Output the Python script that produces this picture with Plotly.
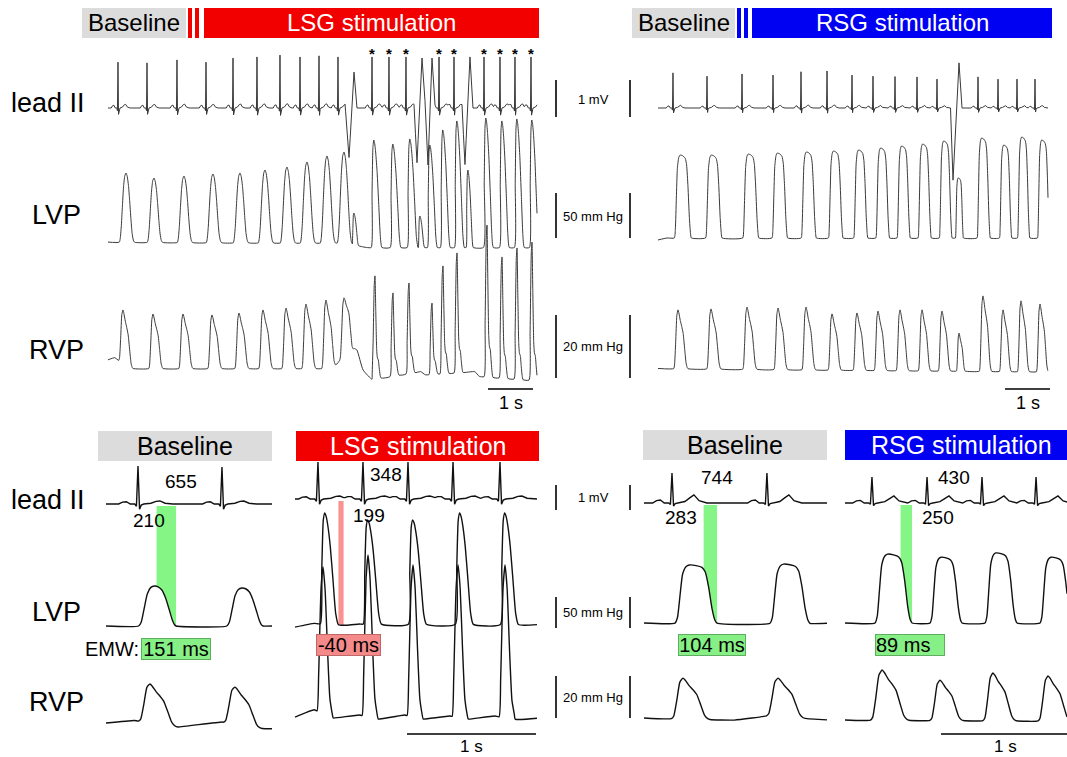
import numpy as np
import plotly.graph_objects as go

W, H = 1067, 757

# ---------------------------------------------------------------- templates
# ECG complex: offsets from the R peak (s) and fraction of the R amplitude
ECG_DT = [-0.15, -0.12, -0.09, -0.06, -0.025, -0.012, 0.0, 0.012, 0.025, 0.045, 0.10, 0.14, 0.17, 0.21, 0.27]
ECG_SMALLT = [0, 0.05, 0.06, 0, 0, -0.06, 1, -0.14, -0.03, 0, 0.02, 0.07, 0.08, 0.02, 0]
ECG_BIGT = [0, 0.08, 0.10, 0, 0, -0.05, 1, -0.10, -0.02, 0, 0.05, 0.18, 0.27, 0.08, 0]

# pressure pulse shapes: phase (0..1 of duration), fraction of peak, phase of the read peak
SHAPES = {
    'round': dict(ph=[0, 0.06, 0.13, 0.2, 0.28, 0.36, 0.44, 0.52, 0.6, 0.68, 0.76, 0.84, 0.92, 1.0],
                  fr=[0, 0.05, 0.22, 0.5, 0.8, 0.96, 1.0, 0.95, 0.82, 0.6, 0.34, 0.13, 0.03, 0], pk=0.44),
    'hump': dict(ph=[0, 0.07, 0.15, 0.23, 0.32, 0.42, 0.52, 0.62, 0.72, 0.82, 0.9, 0.96, 1.0],
                 fr=[0, 0.1, 0.45, 0.8, 0.96, 1.0, 0.98, 0.9, 0.7, 0.4, 0.15, 0.03, 0], pk=0.42),
    'flat': dict(ph=[0, 0.06, 0.12, 0.18, 0.26, 0.34, 0.5, 0.64, 0.72, 0.8, 0.88, 0.95, 1.0],
                 fr=[0, 0.1, 0.48, 0.84, 0.97, 1.0, 0.99, 0.96, 0.88, 0.62, 0.25, 0.05, 0], pk=0.45),
    'spike': dict(ph=[0, 0.08, 0.16, 0.24, 0.32, 0.42, 0.55, 0.7, 0.85, 1.0],
                  fr=[0, 0.5, 0.93, 1.0, 0.97, 0.88, 0.7, 0.4, 0.1, 0], pk=0.26),
    'rvp': dict(ph=[0, 0.06, 0.14, 0.22, 0.3, 0.36, 0.46, 0.56, 0.66, 0.76, 0.86, 0.94, 1.0],
                fr=[0, 0.06, 0.45, 0.9, 1.0, 0.95, 0.82, 0.72, 0.6, 0.35, 0.1, 0.02, 0], pk=0.3),
    'rvpn': dict(ph=[0, 0.12, 0.25, 0.33, 0.42, 0.52, 0.6, 0.7, 0.8, 0.9, 1.0],
                 fr=[0, 0.35, 0.92, 1.0, 0.65, 0.28, 0.2, 0.18, 0.1, 0.03, 0], pk=0.33),
    'rvps': dict(ph=[0, 0.1, 0.25, 0.37, 0.5, 0.65, 0.8, 1.0],
                 fr=[0, 0.25, 0.85, 1.0, 0.85, 0.45, 0.12, 0], pk=0.37),
}

# ---------------------------------------------------------------- data
# Panel A: top left (baseline -> LSG stimulation), time in s, ECG in mV, pressures in mm Hg
A_ECG_T = [0.222, 0.867, 1.533, 2.178, 2.778, 3.311, 3.822, 4.267, 4.689, 5.111,
           5.867, 6.244, 6.622, 7.356, 7.689, 8.356, 8.711, 9.044, 9.4]
A_ECG_V = [1.24, 1.22, 1.30, 1.24, 1.35, 1.38, 1.43, 1.38, 1.41, 1.38,
           1.38, 1.38, 1.38, 1.38, 1.38, 1.38, 1.38, 1.38, 1.38]
A_STAR = [0, 0, 0, 0, 0, 0, 0, 0, 0, 0, 1, 1, 1, 1, 1, 1, 1, 1, 1]
A_PVC_T = [[5.267, 5.356, 5.467, 5.533], [6.8, 6.867, 6.978, 7.044, 7.111, 7.2, 7.267], [7.867, 7.933, 8.044, 8.111]]
A_PVC_V = [[0, -1.35, 0.97, 0], [0, -1.49, 1.35, 0.2, -1.54, 1.35, 0], [0, -1.54, 1.38, 0]]
A_LVP_T = [0.4, 1.022, 1.689, 2.333, 2.933, 3.489, 3.978, 4.422, 4.867, 5.244, 5.467, 5.911,
           6.333, 6.711, 6.933, 7.156, 7.444, 7.756, 8.0, 8.4, 8.756, 9.089, 9.422]
A_LVP_V = [77.8, 72.2, 74.4, 76.7, 77.8, 81.1, 84.4, 90, 96.7, 101.1, 33.3, 114.4,
           110, 115.6, 30, 108.9, 125.6, 135.6, 81.1, 138.9, 135.6, 137.8, 136.7]
A_LVP_D = [0.34] * 10 + [0.14, 0.24, 0.24, 0.24, 0.14, 0.22, 0.22, 0.22, 0.16, 0.22, 0.22, 0.22, 0.22]
A_LVP_K = ['round'] * 10 + ['spike'] * 13
A_LVP_BT = [0, 4.0, 5.3, 5.75, 9.6]
A_LVP_BV = [1, 0, 0, -5, -5]
A_RVP_T = [0.333, 1.0, 1.667, 2.311, 2.911, 3.444, 3.956, 4.4, 4.844, 5.244,
           5.933, 6.333, 6.689, 7.2, 7.444, 7.756, 8.422, 8.756, 9.089, 9.422]
A_RVP_V = [18.4, 17.1, 17.1, 16.8, 17.4, 18.4, 19.0, 20.3, 21.6, 22.3,
           29.4, 23.9, 27.1, 20.6, 32.6, 36.8, 45.8, 35.5, 38.4, 40.3]
A_RVP_D = [0.32] * 10 + [0.2] * 10
A_RVP_K = ['rvp'] * 10 + ['rvpn'] * 10
A_RVP_BT = [0, 0.15, 0.5, 5.0, 5.35, 5.42, 5.47, 5.53, 5.67, 5.87, 6.95, 7.05, 8.15, 8.25, 9.6]
A_RVP_BV = [2.3, 3.0, -0.5, -0.5, 5.8, 4.8, 6.0, 5.5, -1, -4, -1.5, -2.5, -1.5, -3, -4.5]

# Panel B: top right (baseline -> RSG stimulation)
B_ECG_T = [0.333, 1.089, 1.867, 2.556, 3.178, 3.756, 4.311, 4.778, 5.267, 5.756, 6.2, 7.111, 7.556, 7.978, 8.378]
B_ECG_V = [0.95, 0.86, 0.92, 0.89, 0.98, 1.0, 0.89, 0.86, 0.85, 0.84, 0.78, 0.84, 0.78, 0.78, 0.78]
B_PVC_T = [[6.5, 6.556, 6.689, 6.756]]
B_PVC_V = [[0, -1.95, 1.22, 0]]
B_LVP_T = [0.533, 1.222, 2.044, 2.689, 3.333, 3.933, 4.489, 4.978, 5.444, 5.911, 6.378, 6.689, 7.222, 7.711, 8.111, 8.556]
B_LVP_V = [92.2, 92.2, 93.3, 94.4, 95.6, 96.7, 97.8, 100, 102.2, 104.4, 107.8, 66.7, 111.1, 103.3, 112.2, 108.9]
B_LVP_D = [0.38, 0.37, 0.36, 0.35, 0.34, 0.33, 0.32, 0.31, 0.3, 0.3, 0.29, 0.18, 0.3, 0.28, 0.28, 0.28]
B_LVP_BT = [0, 0.2, 8.7]
B_LVP_BV = [-2.2, 0, 0]
B_RVP_T = [0.444, 1.178, 1.978, 2.667, 3.289, 3.867, 4.422, 4.889, 5.378, 5.867, 6.311, 6.689, 7.222, 7.667, 8.067, 8.489]
B_RVP_V = [19.4, 19.7, 20.3, 20.0, 20.3, 18.1, 18.4, 19.0, 19.4, 19.4, 19.0, 11.9, 23.9, 19.4, 22.3, 21.3]
B_RVP_D = [0.32, 0.32, 0.32, 0.31, 0.31, 0.3, 0.3, 0.29, 0.29, 0.28, 0.28, 0.2, 0.28, 0.27, 0.27, 0.27]
B_RVP_BT = [0, 8.7]
B_RVP_BV = [0.5, -0.6]

# Panel C: bottom left, baseline
C_ECG_T = [0.248, 0.899]
C_ECG_V = [1.52, 1.48]
C_LVP_T = [0.375, 1.054]
C_LVP_V = [64.5, 61.3]
C_LVP_D = [0.29, 0.28]
C_LVP_BT = [0, 1.3]
C_LVP_BV = [0, 0]
C_RVP_T = [0.341, 1.0]
C_RVP_V = [18.6, 17.1]
C_RVP_D = [0.3, 0.3]
C_RVP_BT = [0, 0.22, 0.56, 0.9, 1.15, 1.3]
C_RVP_BV = [0, 1.2, -1.9, 0.5, -2.5, -2.8]

# Panel D: bottom left, LSG stimulation
D_ECG_T = [0.178, 0.527, 0.876, 1.225, 1.589]
D_ECG_V = [1.48, 1.48, 1.48, 1.48, 1.48]
D_LVP_T = [0.233, 0.566, 0.915, 1.279, 1.628]
D_LVP_V = [179, 168, 168, 179, 179]
D_LVP_D = [0.14, 0.14, 0.14, 0.14, 0.14]
D_LVP_BT = [0, 0.15, 0.4, 0.5, 1.9]
D_LVP_BV = [-5, 1, -2, 0, -1]
D_RVP_T = [0.217, 0.566, 0.915, 1.264, 1.628]
D_RVP_V = [71, 76.7, 71.9, 71.9, 71.9]
D_RVP_D = [0.125, 0.125, 0.125, 0.125, 0.125]
D_RVP_BT = [0, 0.15, 0.3, 0.5, 0.65, 0.85, 1.0, 1.2, 1.35, 1.55, 1.7, 1.9]
D_RVP_BV = [-0.5, 3, -1, 0.5, -1.5, 0.5, -1.5, 0, -1.5, 0, -1.5, -1]

# Panel E: bottom right, baseline
E_ECG_T = [0.217, 0.953]
E_ECG_V = [1.2, 1.2]
E_LVP_T = [0.387, 1.116]
E_LVP_V = [93.5, 95]
E_LVP_D = [0.326, 0.31]
E_LVP_BT = [0, 1.45]
E_LVP_BV = [0, -0.5]
E_RVP_T = [0.302, 1.039]
E_RVP_V = [19, 19]
E_RVP_D = [0.3, 0.3]
E_RVP_BT = [0, 0.7, 0.95, 1.45]
E_RVP_BV = [0, -1, 1, -1]

# Panel F: bottom right, RSG stimulation
F_ECG_T = [0.209, 0.636, 1.062, 1.481]
F_ECG_V = [1.04, 1.04, 1.04, 1.04]
F_LVP_T = [0.362, 0.771, 1.197, 1.624]
F_LVP_V = [111, 106, 113, 106]
F_LVP_D = [0.287, 0.248, 0.248, 0.25]
F_LVP_BT = [0, 1.75]
F_LVP_BV = [0, 0]
F_RVP_T = [0.287, 0.736, 1.147, 1.574]
F_RVP_V = [23.8, 19, 22.4, 21]
F_RVP_D = [0.3, 0.26, 0.26, 0.26]
F_RVP_BT = [0, 1.75]
F_RVP_BV = [0, -0.5]

EMW_MS = [151, -40, 104, 89]
EMW_TEXT = ['151 ms', '-40 ms', '104 ms', '89 ms']
RR_MS = ['655', '348', '744', '430']
QT_MS = ['210', '199', '283', '250']

# ---------------------------------------------------------------- geometry (pixels)
PANELS = {
    'A': dict(x0=108, x1=537, pxps=45, ytop=40, ybot=400, ecg=(108, 37), lvp=(243, 0.9), rvp=(367, 3.1), lw=1.0),
    'B': dict(x0=658, x1=1048, pxps=45, ytop=40, ybot=400, ecg=(108, 37), lvp=(238, 0.9), rvp=(370, 3.1), lw=1.0),
    'C': dict(x0=106, x1=272, pxps=129, ytop=455, ybot=740, ecg=(504, 25), lvp=(626, 0.62), rvp=(723, 2.1), lw=1.4),
    'D': dict(x0=295, x1=537, pxps=129, ytop=455, ybot=740, ecg=(499, 25), lvp=(624, 0.62), rvp=(716, 2.1), lw=1.4),
    'E': dict(x0=644, x1=827, pxps=129, ytop=455, ybot=740, ecg=(503, 25), lvp=(623, 0.62), rvp=(718, 2.1), lw=1.4),
    'F': dict(x0=845, x1=1067, pxps=129, ytop=455, ybot=740, ecg=(503, 25), lvp=(623, 0.62), rvp=(720, 2.1), lw=1.4),
}

FONT = "Liberation Sans, Arial, sans-serif"


def X(px):
    return px / W


def Y(py):
    return 1 - py / H


def build_ecg(t_end, rt, rv, tmpl, pvc_t=(), pvc_v=()):
    grid = [0.0, t_end]
    parts = []
    dt = np.asarray(ECG_DT)
    for t, v in zip(rt, rv):
        ts = t + dt
        grid.extend(ts)
        parts.append((ts, np.asarray(tmpl) * v))
    for ts, vs in zip(pvc_t, pvc_v):
        grid.extend(ts)
        parts.append((np.asarray(ts), np.asarray(vs, dtype=float)))
    g = np.unique(np.clip(np.asarray(grid), 0, t_end))
    y = np.zeros_like(g)
    for ts, vs in parts:
        y = y + np.interp(g, ts, vs, left=0.0, right=0.0)
    return g, y


def build_pressure(t_end, times, vals, durs, kinds, base_t, base_v):
    grid = [0.0, t_end] + list(base_t)
    parts = []
    for tp, v, d, k in zip(times, vals, durs, kinds):
        sh = SHAPES[k]
        ts = tp - sh['pk'] * d + np.asarray(sh['ph']) * d
        grid.extend(ts)
        parts.append((ts, np.asarray(sh['fr']), v - np.interp(tp, base_t, base_v)))
    g = np.unique(np.clip(np.asarray(grid), 0, t_end))
    y = np.interp(g, base_t, base_v)
    for ts, fr, a in parts:
        y = y + a * np.interp(g, ts, fr, left=0.0, right=0.0)
    return g, y


def pulse_end(tp, d, kind):
    return tp + (1 - SHAPES[kind]['pk']) * d


DATA = {
    'A': dict(ecg=(A_ECG_T, A_ECG_V, ECG_SMALLT, A_PVC_T, A_PVC_V),
              lvp=(A_LVP_T, A_LVP_V, A_LVP_D, A_LVP_K, A_LVP_BT, A_LVP_BV),
              rvp=(A_RVP_T, A_RVP_V, A_RVP_D, A_RVP_K, A_RVP_BT, A_RVP_BV)),
    'B': dict(ecg=(B_ECG_T, B_ECG_V, ECG_SMALLT, B_PVC_T, B_PVC_V),
              lvp=(B_LVP_T, B_LVP_V, B_LVP_D, ['flat'] * len(B_LVP_T), B_LVP_BT, B_LVP_BV),
              rvp=(B_RVP_T, B_RVP_V, B_RVP_D, ['rvp'] * len(B_RVP_T), B_RVP_BT, B_RVP_BV)),
    'C': dict(ecg=(C_ECG_T, C_ECG_V, ECG_SMALLT, [], []),
              lvp=(C_LVP_T, C_LVP_V, C_LVP_D, ['hump'] * 2, C_LVP_BT, C_LVP_BV),
              rvp=(C_RVP_T, C_RVP_V, C_RVP_D, ['rvp'] * 2, C_RVP_BT, C_RVP_BV)),
    'D': dict(ecg=(D_ECG_T, D_ECG_V, ECG_SMALLT, [], []),
              lvp=(D_LVP_T, D_LVP_V, D_LVP_D, ['spike'] * 5, D_LVP_BT, D_LVP_BV),
              rvp=(D_RVP_T, D_RVP_V, D_RVP_D, ['rvps'] * 5, D_RVP_BT, D_RVP_BV)),
    'E': dict(ecg=(E_ECG_T, E_ECG_V, ECG_BIGT, [], []),
              lvp=(E_LVP_T, E_LVP_V, E_LVP_D, ['flat'] * 2, E_LVP_BT, E_LVP_BV),
              rvp=(E_RVP_T, E_RVP_V, E_RVP_D, ['rvp'] * 2, E_RVP_BT, E_RVP_BV)),
    'F': dict(ecg=(F_ECG_T, F_ECG_V, ECG_BIGT, [], []),
              lvp=(F_LVP_T, F_LVP_V, F_LVP_D, ['flat'] * 4, F_LVP_BT, F_LVP_BV),
              rvp=(F_RVP_T, F_RVP_V, F_RVP_D, ['rvp'] * 4, F_RVP_BT, F_RVP_BV)),
}

fig = go.Figure()
layout = dict(width=W, height=H, margin=dict(l=0, r=0, t=0, b=0),
              paper_bgcolor='white', plot_bgcolor='rgba(0,0,0,0)', showlegend=False,
              font=dict(family=FONT, color='black'))

BAND_COLORS = {'C': 'rgba(120,245,120,0.9)', 'D': 'rgba(250,140,140,0.95)',
               'E': 'rgba(120,245,120,0.9)', 'F': 'rgba(120,245,120,0.9)'}
BAND_EMW = {'C': EMW_MS[0], 'D': EMW_MS[1], 'E': EMW_MS[2], 'F': EMW_MS[3]}

xi = 0
yi = 0
for key, P in PANELS.items():
    xi += 1
    xname = 'x' if xi == 1 else 'x%d' % xi
    dx0 = P['x0'] - 2
    dx1 = min(P['x1'] + 2, W)
    ynames = {}
    for sig in ['ecg', 'lvp', 'rvp']:
        yi += 1
        yname = 'y' if yi == 1 else 'y%d' % yi
        base_px, sc = P[sig]
        layout['yaxis' if yi == 1 else 'yaxis%d' % yi] = dict(
            domain=[Y(P['ybot']), Y(P['ytop'])],
            range=[(base_px - P['ybot']) / sc, (base_px - P['ytop']) / sc],
            anchor=xname, visible=False, fixedrange=True)
        ynames[sig] = yname
    layout['xaxis' if xi == 1 else 'xaxis%d' % xi] = dict(
        domain=[X(dx0), X(dx1)],
        range=[(dx0 - P['x0']) / P['pxps'], (dx1 - P['x0']) / P['pxps']],
        anchor=ynames['ecg'], visible=False, fixedrange=True)

    t_end = (P['x1'] - P['x0']) / P['pxps']
    D = DATA[key]
    lg, ly = build_pressure(t_end, *D['lvp'])

    # EMW band (between end of T wave and end of LV pressure pulse)
    if key in BAND_EMW:
        lt, lv, ld, lk = D['lvp'][:4]
        tb = pulse_end(lt[0], ld[0], lk[0])
        ta = tb - BAND_EMW[key] / 1000.0
        lo, hi = min(ta, tb), max(ta, tb)
        m = (lg > lo) & (lg < hi)
        top = (P['lvp'][0] - (P['ecg'][0] + 2)) / P['lvp'][1]
        bx = [lo, lo] + list(lg[m]) + [hi, hi]
        by = [top, np.interp(lo, lg, ly)] + list(ly[m]) + [np.interp(hi, lg, ly), top]
        fig.add_trace(go.Scatter(x=bx, y=by, fill='toself', fillcolor=BAND_COLORS[key],
                                 mode='lines', line=dict(width=0), hoverinfo='skip',
                                 xaxis=xname, yaxis=ynames['lvp']))

    col = '#3a3a3a' if key in 'AB' else '#111111'
    eg, ey = build_ecg(t_end, *D['ecg'])
    fig.add_trace(go.Scatter(x=eg, y=ey, mode='lines', line=dict(color=col, width=P['lw']),
                             xaxis=xname, yaxis=ynames['ecg'], hoverinfo='skip'))
    fig.add_trace(go.Scatter(x=lg, y=ly, mode='lines',
                             line=dict(color=col, width=P['lw'], shape='spline', smoothing=0.5),
                             xaxis=xname, yaxis=ynames['lvp'], hoverinfo='skip'))
    rg, ry = build_pressure(t_end, *D['rvp'])
    fig.add_trace(go.Scatter(x=rg, y=ry, mode='lines',
                             line=dict(color=col, width=P['lw'], shape='spline', smoothing=0.5),
                             xaxis=xname, yaxis=ynames['rvp'], hoverinfo='skip'))

fig.update_layout(**layout)

shapes = []
ann = []


def rect(x0, y0, x1, y1, color):
    shapes.append(dict(type='rect', xref='paper', yref='paper', x0=X(x0), x1=X(x1), y0=Y(y1), y1=Y(y0),
                       fillcolor=color, line=dict(width=0), layer='below'))


def vline(x, y0, y1, w=1.6):
    shapes.append(dict(type='line', xref='paper', yref='paper', x0=X(x), x1=X(x), y0=Y(y0), y1=Y(y1),
                       line=dict(color='black', width=w)))


def hline(x0, x1, y, w=1.6):
    shapes.append(dict(type='line', xref='paper', yref='paper', x0=X(x0), x1=X(x1), y0=Y(y), y1=Y(y),
                       line=dict(color='black', width=w)))


def text(x, y, s, size, color='black', xanchor='center', **kw):
    d = dict(x=X(x), y=Y(y), xref='paper', yref='paper', text=s, showarrow=False,
             font=dict(size=size, color=color, family=FONT), xanchor=xanchor, yanchor='middle')
    d.update(kw)
    ann.append(d)


GRAY = '#dcdcdc'
RED = '#f20000'
BLUE = '#0000f2'

# top headers
rect(82, 8, 186, 38, GRAY)
rect(188, 8, 192, 38, RED)
rect(195, 8, 199, 38, RED)
rect(204, 8, 539, 38, RED)
text(134, 23, 'Baseline', 24)
text(371, 23, 'LSG stimulation', 24, 'white')
rect(632, 8, 735, 38, GRAY)
rect(737, 8, 741, 38, BLUE)
rect(744, 8, 748, 38, BLUE)
rect(752, 8, 1052, 38, BLUE)
text(684, 23, 'Baseline', 24)
text(902, 23, 'RSG stimulation', 24, 'white')

# bottom headers
rect(98, 431, 272, 461, GRAY)
rect(296, 431, 539, 461, RED)
rect(643, 430, 827, 460, GRAY)
rect(845, 430, 1067, 460, BLUE)
text(185, 446, 'Baseline', 25)
text(418, 446, 'LSG stimulation', 25, 'white')
text(735, 445, 'Baseline', 25)
text(961, 445, 'RSG stimulation', 25, 'white')

# row labels
for (yy, s, xx) in [(103, 'lead II', 48), (215, 'LVP', 56), (350, 'RVP', 56),
                    (500, 'lead II', 48), (612, 'LVP', 56), (702, 'RVP', 56)]:
    text(xx, yy, s, 27)

# calibration bars
for (y0, y1, s, ty) in [(80, 117, '1 mV', 99), (193, 238, '50 mm Hg', 216), (315, 378, '20 mm Hg', 347),
                        (485, 510, '1 mV', 497), (597, 628, '50 mm Hg', 612), (676, 718, '20 mm Hg', 697)]:
    vline(556, y0, y1)
    vline(630, y0, y1)
    text(593, ty, s, 13)

# 1 s time bars (length = one second on each panel's time scale)
for key, right, yb in [('A', 533, 389), ('B', 1050, 389), ('D', 536, 734), ('F', 1070, 734)]:
    L = PANELS[key]['pxps']
    hline(right - L, right, yb)
    text(right - L / 2, yb + 14 if key in 'AB' else yb + 12, '1 s', 18 if key in 'AB' else 17)

# stars above the R waves during LSG stimulation
PA = PANELS['A']
for t, v, s in zip(A_ECG_T, A_ECG_V, A_STAR):
    if s:
        xp = PA['x0'] + t * PA['pxps']
        yp = PA['ecg'][0] - v * PA['ecg'][1] - 3
        text(xp, yp, '<b>*</b>', 15)

# interval numbers
for (x, y, s) in [(181, 481, RR_MS[0]), (386, 475, RR_MS[1]), (717, 477, RR_MS[2]), (954, 477, RR_MS[3]),
                  (149, 520, QT_MS[0]), (369, 515, QT_MS[1]), (681, 517, QT_MS[2]), (938, 517, QT_MS[3])]:
    text(x, y, s, 19)

# EMW labels
text(141, 649, 'EMW:', 20, xanchor='right')
GREEN_BOX = '#86f086'
for (x, y, s, bg, bc, w, al) in [(175.5, 649, EMW_TEXT[0], GREEN_BOX, '#5fae5f', 68, 'center'),
                                 (348.5, 645, EMW_TEXT[1], '#f48a8a', '#c06868', 63, 'center'),
                                 (712, 645, EMW_TEXT[2], GREEN_BOX, '#5fae5f', 66, 'center'),
                                 (910, 645, EMW_TEXT[3], GREEN_BOX, '#5fae5f', 68, 'left')]:
    text(x, y, s, 20, bgcolor=bg, bordercolor=bc, borderwidth=1, borderpad=0,
         width=w, height=20, align=al)

fig.update_layout(shapes=shapes, annotations=ann)
fig.write_html("out.html", config={'displayModeBar': False},
               post_script="document.body.style.margin='0';document.body.style.overflow='hidden';")
